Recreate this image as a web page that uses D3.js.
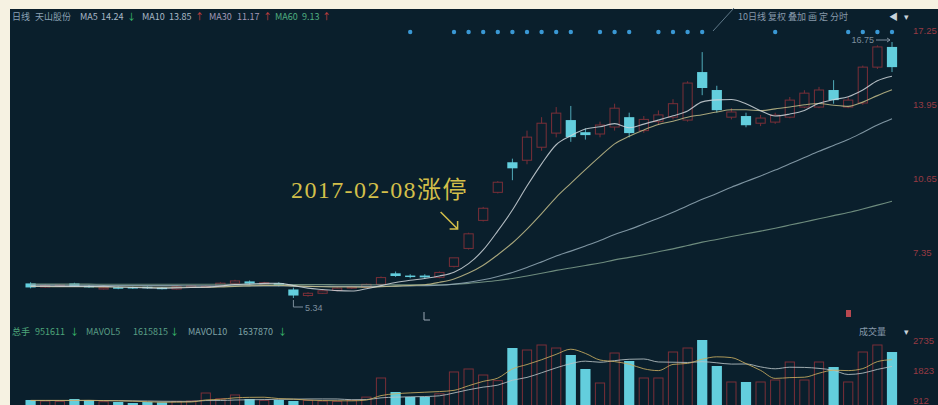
<!DOCTYPE html>
<html><head><meta charset="utf-8">
<script src="https://cdn.jsdelivr.net/npm/d3@7"></script>
<style>
html,body{margin:0;padding:0;background:#f6f2e2;}
svg{display:block;}
</style></head><body>
<svg id="c" width="938" height="405"></svg>
<script>
// ---------------- data ----------------
const days = d3.range(60); // trading-day index
const opens  = [5.99,5.83,5.88,5.99,5.88,5.74,5.82,5.83,5.84,5.80, 5.74,5.82,5.82,5.88,6.00,6.08,5.96,6.00,5.72,5.45, 5.55,5.68,5.78,5.82,5.95,6.44,6.34,6.34,6.26,6.75, 7.55,8.80,10.05,11.39,11.48,12.06,12.69,13.27,12.73,12.65, 12.96,13.40,12.80,13.20,13.40,13.27,15.41,14.61,13.40,13.45, 13.13,13.18,13.40,13.85,13.85,14.61,13.85,14.03,15.63,16.53];
const highs  = [6.04,5.95,5.96,6.02,5.92,5.84,5.85,5.85,5.86,5.83, 5.87,5.92,5.90,6.04,6.15,6.12,6.06,6.04,5.80,5.60, 5.70,5.82,5.88,5.98,6.30,6.52,6.40,6.40,6.52,7.13, 8.25,9.40,10.55,11.55,12.80,13.40,13.85,13.90,12.90,13.20, 14.00,13.60,13.45,13.70,14.20,15.00,16.30,14.80,13.80,13.60, 13.50,13.60,14.30,14.60,14.75,15.05,14.30,15.70,16.60,16.75];
const lows   = [5.77,5.79,5.84,5.84,5.79,5.72,5.73,5.74,5.75,5.72, 5.72,5.80,5.80,5.86,5.97,5.95,5.93,5.86,5.34,5.40, 5.52,5.64,5.74,5.80,5.92,6.28,6.22,6.20,6.22,6.70, 7.50,8.75,10.00,10.59,11.30,11.90,12.50,12.30,12.40,12.50, 12.80,12.50,12.70,13.05,13.30,13.20,14.38,13.60,13.30,12.95, 13.00,13.10,13.35,13.80,13.80,14.00,13.80,13.95,15.55,15.41];
const closes = [5.81,5.90,5.92,5.86,5.82,5.80,5.76,5.80,5.78,5.75, 5.84,5.88,5.86,6.00,6.10,5.98,6.02,5.90,5.45,5.55, 5.66,5.78,5.83,5.95,6.25,6.32,6.28,6.26,6.48,7.13, 8.20,9.34,10.50,11.12,12.51,13.13,13.58,12.51,12.60,13.05, 13.80,12.69,13.30,13.50,14.00,14.92,14.70,13.71,13.63,13.04, 13.36,13.49,14.16,14.47,14.61,14.16,14.16,15.63,16.53,15.63];

const ma5  = [5.87,5.87,5.86,5.86,5.86,5.86,5.83,5.81,5.79,5.78, 5.79,5.81,5.82,5.87,5.94,5.96,5.99,6.00,5.89,5.78, 5.72,5.67,5.65,5.75,5.89,6.03,6.13,6.21,6.32,6.49, 6.87,7.48,8.33,9.26,10.33,11.32,12.17,12.57,12.87,12.97, 13.11,12.93,13.09,13.27,13.46,13.68,14.08,14.17,14.19,14.00, 13.69,13.45,13.54,13.70,14.02,14.18,14.31,14.61,15.02,15.22];
const ma10 = [5.85,5.85,5.84,5.84,5.84,5.83,5.83,5.83,5.82,5.82, 5.82,5.82,5.82,5.83,5.86,5.88,5.90,5.91,5.88,5.86, 5.84,5.83,5.83,5.82,5.84,5.87,5.90,5.93,6.04,6.19, 6.45,6.80,7.27,7.79,8.41,9.10,9.83,10.45,11.06,11.65, 12.21,12.55,12.83,13.07,13.22,13.40,13.51,13.63,13.73,13.73, 13.69,13.77,13.85,13.95,14.01,13.93,13.88,14.07,14.36,14.62];
const ma30 = [5.92,5.92,5.91,5.91,5.91,5.90,5.90,5.90,5.89,5.89, 5.89,5.88,5.88,5.88,5.88,5.88,5.88,5.88,5.87,5.86, 5.86,5.86,5.86,5.86,5.86,5.87,5.88,5.89,5.91,5.96, 6.04,6.15,6.30,6.48,6.70,6.95,7.21,7.43,7.66,7.90, 8.17,8.39,8.64,8.89,9.16,9.45,9.74,10.00,10.28,10.53, 10.78,11.04,11.32,11.60,11.88,12.14,12.40,12.72,13.05,13.33];
const ma60 = [5.96,5.96,5.96,5.96,5.96,5.95,5.95,5.95,5.95,5.95, 5.95,5.95,5.95,5.95,5.95,5.95,5.95,5.95,5.94,5.94, 5.94,5.93,5.93,5.93,5.93,5.93,5.93,5.93,5.93,5.95, 5.99,6.05,6.12,6.21,6.32,6.44,6.57,6.68,6.79,6.90, 7.04,7.15,7.27,7.40,7.53,7.68,7.83,7.95,8.08,8.20, 8.32,8.45,8.59,8.73,8.87,9.01,9.15,9.31,9.48,9.65];

const volumes = [912,880,870,942,912,860,851,820,850,840, 870,880,1124,950,1064,942,900,912,881,900, 880,870,900,1000,1580,1155,1003,1003,1100,1763, 1854,1671,1500,2492,2431,2583,2492,2279,1854,1428, 2340,2097,1580,1580,2370,2492,2735,1945,1459,1459, 1459,1519,2066,1519,2066,1914,1459,2370,2583,2370];
const mavol5  = [900,900,900,900,903,893,887,877,859,844, 846,852,913,933,978,992,996,954,940,907, 895,889,886,910,1046,1101,1128,1148,1168,1205, 1345,1478,1578,1856,1990,2135,2300,2455,2328,2127, 2079,2000,1860,1805,1993,2024,2151,2224,2200,2018, 1811,1568,1592,1604,1726,1817,1805,1866,2078,2139];
const mavol10 = [895,895,895,895,895,895,890,885,880,874, 870,870,895,896,911,919,924,934,937,943, 944,943,920,925,977,998,1009,1017,1039,1126, 1223,1303,1363,1512,1598,1740,1889,2017,2092,2059, 2107,2150,2158,2067,2060,2052,2076,2042,2003,2006, 1918,1860,1908,1902,1872,1814,1687,1729,1841,1933];

const priceTicks = [17.25, 13.95, 10.65, 7.35];
const volTicks = [2735, 1823, 912];
const signalDays = [26,29,30,31,32,33,34,35,36,37,39,40,41,43,44,45,46,51,56,57,58,59];
const limitUpDay = 30;
const lowDay = 18, highDay = 59;

// ---------------- drawing ----------------
const svg = d3.select('#c');
const BG = '#0a1f2c', RED = '#7a2f38', CYAN = '#63cedd';
svg.append('rect').attr('x',10).attr('y',9).attr('width',928).attr('height',396).attr('fill',BG);

const x = d3.scaleBand().domain(days).range([23.3, 899.3]).paddingInner(0.3).paddingOuter(0.15);
const bw = x.bandwidth();
const cx = i => x(i) + bw/2;
const yP = d3.scaleLinear().domain([5.34, 16.75]).range([298, 42]);
const yV = d3.scaleLinear().domain([0, 2735]).range([430, 340]);

svg.append('clipPath').attr('id','vclip').append('rect').attr('x',10).attr('y',326).attr('width',928).attr('height',80);

// price candles
const cg = svg.append('g');
days.forEach(i => {
  const o = opens[i], c = closes[i], h = highs[i], l = lows[i];
  const up = c >= o;
  const col = up ? RED : CYAN;
  const top = yP(Math.max(o,c)), bot = yP(Math.min(o,c));
  if (up) {
    cg.append('line').attr('x1',cx(i)).attr('x2',cx(i)).attr('y1',yP(h)).attr('y2',top).attr('stroke',col);
    cg.append('line').attr('x1',cx(i)).attr('x2',cx(i)).attr('y1',bot).attr('y2',yP(l)).attr('stroke',col);
    cg.append('rect').attr('x',x(i)+0.5).attr('y',top).attr('width',bw-1).attr('height',Math.max(1,bot-top))
      .attr('fill','none').attr('stroke',col).attr('stroke-width',1);
  } else {
    cg.append('line').attr('x1',cx(i)).attr('x2',cx(i)).attr('y1',yP(h)).attr('y2',yP(l)).attr('stroke',col).attr('opacity',0.8);
    cg.append('rect').attr('x',x(i)).attr('y',top).attr('width',bw).attr('height',Math.max(1.5,bot-top)).attr('fill',col);
  }
});

// MA lines
const lineP = d3.line().x((d,i)=>cx(i)).y(d=>yP(d)).curve(d3.curveMonotoneX);
[[ma60,'#7f9f8c'],[ma30,'#93a9b6'],[ma10,'#c3bd8a'],[ma5,'#cfd6da']].forEach(([arr,col])=>{
  svg.append('path').attr('d',lineP(arr)).attr('fill','none').attr('stroke',col).attr('stroke-width',1.1).attr('opacity',0.85);
});

// price axis
const ax = svg.append('g').attr('transform','translate(911,0)')
  .call(d3.axisRight(yP).tickValues(priceTicks).tickSize(0).tickPadding(2).tickFormat(d3.format('.2f')));
ax.select('.domain').remove();
ax.selectAll('text').attr('fill','#963a43').attr('font-size',9.5).attr('font-family','Liberation Sans, Arial');

// signal dots
svg.append('g').selectAll('circle').data(signalDays).join('circle')
  .attr('cx',d=>cx(d)).attr('cy',32).attr('r',2.2).attr('fill','#3a98d4');

// high / low markers
svg.append('path').attr('d',`M${cx(lowDay)},${yP(lows[lowDay])+2}V307H303`).attr('stroke','#7d8e9c').attr('fill','none');
svg.append('text').attr('x',305).attr('y',310.5).text(lows[lowDay].toFixed(2)).attr('fill','#7d8e9c').attr('font-size',9).attr('font-family','Liberation Sans, Arial');
svg.append('text').attr('x',874).attr('y',43).attr('text-anchor','end').text(highs[highDay].toFixed(2)).attr('fill','#7d8e9c').attr('font-size',9).attr('font-family','Liberation Sans, Arial');
svg.append('path').attr('d',`M876,40H${cx(highDay)-2}M${cx(highDay)-5},38L${cx(highDay)-2},40L${cx(highDay)-5},42`).attr('stroke','#7d8e9c').attr('fill','none');

// annotation
svg.append('text').attr('x',291).attr('y',198).text('2017-02-08涨停')
  .attr('fill','#d3bf4a').attr('font-size',24).attr('letter-spacing',1.4)
  .attr('font-family','Liberation Serif, Noto Sans CJK SC');
const ax2 = cx(limitUpDay)-11, ay2 = 229;
svg.append('path').attr('d',`M${ax2-17},${ay2-17}L${ax2},${ay2}M${ax2-8},${ay2}H${ax2}V${ay2-8}`)
  .attr('stroke','#d3bf4a').attr('stroke-width',1.5).attr('fill','none');

// small marks
svg.append('path').attr('d','M424,312V320H430').attr('stroke','#9aa8b4').attr('fill','none');
svg.append('rect').attr('x',846).attr('y',310).attr('width',5).attr('height',7).attr('fill','#b84850');
svg.append('line').attr('x1',713).attr('y1',31).attr('x2',734).attr('y2',8).attr('stroke','#5f7888');

// header texts
const hdr = svg.append('g').attr('font-size',9).attr('font-family','Noto Sans CJK SC, Liberation Sans');
const hseg = [
  [12,'日线','#8aa2b4'],[35,'天山股份','#8aa2b4'],[80,'MA5','#a9b9c6'],[101,'14.24','#a9b9c6'],[127,'↓','#3dc070'],
  [142,'MA10','#a9b9c6'],[169,'13.85','#a9b9c6'],[195,'↑','#d04040'],
  [209,'MA30','#a39ab8'],[237,'11.17','#a39ab8'],[263,'↑','#d04040'],
  [275,'MA60','#4fae80'],[302,'9.13','#4fae80'],[322,'↑','#d04040']
];
hseg.forEach(([xx,t,c])=>hdr.append('text').attr('x',xx).attr('y',20).text(t).attr('fill',c));
hdr.append('text').attr('x',738).attr('y',20).text('10日线 复权 叠加 画 定 分时').attr('fill','#8799aa');
hdr.append('text').attr('x',889).attr('y',20).text('◀').attr('fill','#c8d2da');
hdr.append('text').attr('x',904).attr('y',20).text('▾').attr('fill','#c8d2da');

// volume panel
const vg = svg.append('g').attr('clip-path','url(#vclip)');
days.forEach(i => {
  const up = closes[i] >= opens[i];
  const top = yV(volumes[i]);
  if (up) vg.append('rect').attr('x',x(i)+0.5).attr('y',top).attr('width',bw-1).attr('height',430-top)
      .attr('fill','none').attr('stroke',RED);
  else vg.append('rect').attr('x',x(i)).attr('y',top).attr('width',bw).attr('height',430-top).attr('fill',CYAN);
});
const lineV = d3.line().x((d,i)=>cx(i)).y(d=>yV(d)).curve(d3.curveMonotoneX);
vg.append('path').attr('d',lineV(mavol10)).attr('fill','none').attr('stroke','#b9c3c6').attr('stroke-width',1).attr('opacity',0.85);
vg.append('path').attr('d',lineV(mavol5)).attr('fill','none').attr('stroke','#c9ad60').attr('stroke-width',1).attr('opacity',0.85);

const vax = svg.append('g').attr('transform','translate(911,0)')
  .call(d3.axisRight(yV).tickValues(volTicks).tickSize(0).tickPadding(2).tickFormat(d3.format('d')));
vax.select('.domain').remove();
vax.selectAll('text').attr('fill','#963a43').attr('font-size',9.5).attr('font-family','Liberation Sans, Arial');

const vh = svg.append('g').attr('font-size',9).attr('font-family','Noto Sans CJK SC, Liberation Sans');
[[12,'总手','#4ea67a'],[35,'951611','#4ea67a'],[70,'↓','#3dc070'],
 [86,'MAVOL5','#5a9f86'],[133,'1615815','#5a9f86'],[170,'↓','#3dc070'],
 [188,'MAVOL10','#7fa3a6'],[238,'1637870','#7fa3a6'],[278,'↓','#3dc070']]
 .forEach(([xx,t,c])=>vh.append('text').attr('x',xx).attr('y',335).text(t).attr('fill',c));
vh.append('text').attr('x',859).attr('y',335).text('成交量').attr('fill','#8799aa');
vh.append('text').attr('x',904).attr('y',335).text('▾').attr('fill','#c8d2da');
</script>
</body></html>
